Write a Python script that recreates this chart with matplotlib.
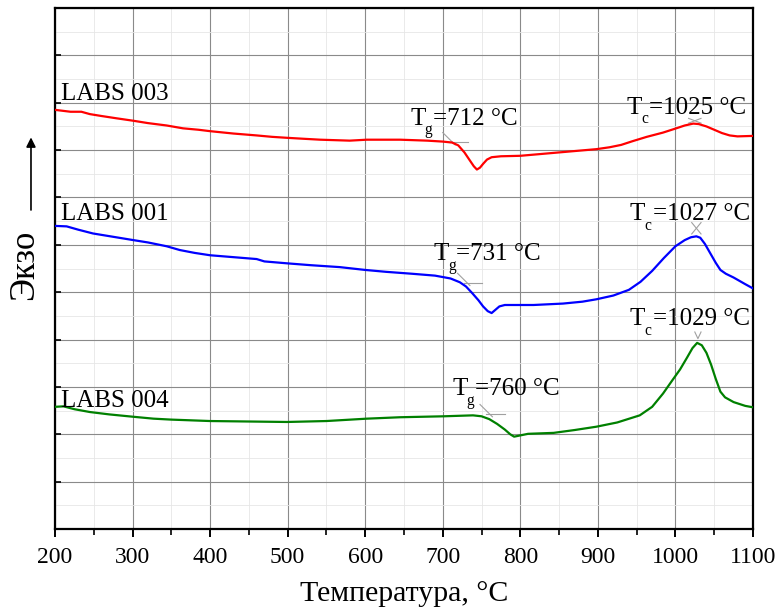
import matplotlib

matplotlib.use("Agg")
import matplotlib.pyplot as plt
from matplotlib.ticker import MultipleLocator, NullFormatter

plt.rcParams["font.family"] = ["Liberation Serif", "DejaVu Serif"]

# DSC traces, temperature in °C, heat flow in arbitrary offset units
labs003_t = [200, 210, 220, 234, 245, 260, 280, 301, 320, 344, 365, 385, 400, 430, 460,
             480, 499, 520, 542, 580, 602, 645, 680, 700, 712, 720, 728, 735, 740, 744,
             748, 752, 757, 763, 775, 800, 842, 870, 898, 915, 930, 945, 963, 984, 1001,
             1012, 1023, 1030, 1040, 1050, 1060, 1070, 1080, 1100]
labs003_q = [8.85, 8.83, 8.81, 8.81, 8.76, 8.72, 8.67, 8.62, 8.57, 8.52, 8.46, 8.43, 8.40, 8.35, 8.31,
             8.28, 8.26, 8.24, 8.22, 8.20, 8.22, 8.22, 8.20, 8.18, 8.16, 8.10, 7.95, 7.78, 7.66, 7.59,
             7.63, 7.71, 7.80, 7.85, 7.87, 7.88, 7.94, 7.98, 8.02, 8.06, 8.11, 8.19, 8.28, 8.37, 8.46,
             8.52, 8.56, 8.55, 8.50, 8.43, 8.36, 8.31, 8.29, 8.30]

labs001_t = [200, 215, 230, 249, 275, 301, 320, 344, 361, 380, 400, 430, 460, 470, 499,
             530, 567, 600, 627, 660, 690, 710, 722, 730, 738, 746, 752, 758, 763, 768,
             773, 780, 817, 855, 880, 898, 920, 940, 955, 970, 985, 1000, 1012, 1020, 1027,
             1032, 1038, 1045, 1052, 1058, 1065, 1075, 1090, 1100]
labs001_q = [6.40, 6.39, 6.32, 6.24, 6.17, 6.10, 6.05, 5.97, 5.89, 5.83, 5.78, 5.74, 5.70, 5.65, 5.61,
             5.57, 5.53, 5.47, 5.43, 5.39, 5.35, 5.29, 5.21, 5.12, 4.98, 4.83, 4.70, 4.60, 4.56, 4.63,
             4.70, 4.73, 4.73, 4.76, 4.80, 4.85, 4.93, 5.05, 5.22, 5.45, 5.72, 5.97, 6.10, 6.16, 6.18,
             6.15, 6.02, 5.82, 5.62, 5.47, 5.39, 5.31, 5.17, 5.08]

labs004_t = [200, 211, 225, 245, 270, 301, 327, 350, 400, 450, 499, 550, 602, 645, 701,
             739, 750, 760, 770, 780, 787, 792, 798, 810, 843, 870, 898, 925, 954, 970,
             984, 996, 1006, 1015, 1022, 1028, 1034, 1040, 1046, 1052, 1058, 1064, 1075, 1090, 1100]
labs004_q = [2.58, 2.59, 2.53, 2.47, 2.42, 2.37, 2.33, 2.31, 2.28, 2.27, 2.26, 2.28, 2.33, 2.36, 2.38,
             2.40, 2.38, 2.32, 2.22, 2.10, 2.00, 1.95, 1.97, 2.01, 2.03, 2.09, 2.16, 2.25, 2.40, 2.58,
             2.86, 3.14, 3.37, 3.62, 3.82, 3.93, 3.88, 3.72, 3.47, 3.17, 2.90, 2.78, 2.68, 2.60, 2.57]

sample_names = ["LABS 003", "LABS 001", "LABS 004"]
tg_values = [712, 731, 760]
tc_values = [1025, 1027, 1029]
colors = ["#ff0000", "#0000ff", "#008000"]

traces = [(labs003_t, labs003_q), (labs001_t, labs001_q), (labs004_t, labs004_q)]

# placement of names and onset/peak labels
name_pos = [(208, 9.05), (208, 6.52), (208, 2.57)]
tg_text_pos = [(658, 8.54), (688, 5.67), (712, 2.83)]
tc_text_pos = [(937, 8.77), (941, 6.52), (941, 4.30)]
tg_mark_level = [8.17, 5.20, 2.43]
tc_mark_level = [8.62, 6.35, 4.02]


def subscript_label(ax, pos, sub, rest, size=18):
    """Draw T with a low subscript followed by the value text."""
    ax.text(*pos, "T", fontsize=size, ha="left", va="baseline")
    ax.annotate(sub, pos, xytext=(10.5, -7), textcoords="offset points",
                fontsize=size * 0.62, ha="left", va="baseline")
    ax.annotate(rest, pos, xytext=(16.5, 0), textcoords="offset points",
                fontsize=size, ha="left", va="baseline")


fig = plt.figure(figsize=(7.79, 6.08), dpi=100)
ax = fig.add_axes([0.0706, 0.1299, 0.896, 0.8569])

ax.set_xlim(200, 1100)
ax.set_ylim(0, 11)
ax.xaxis.set_major_locator(MultipleLocator(100))
ax.xaxis.set_minor_locator(MultipleLocator(50))
ax.yaxis.set_major_locator(MultipleLocator(1))
ax.yaxis.set_minor_locator(MultipleLocator(0.5))
ax.yaxis.set_major_formatter(NullFormatter())

ax.grid(True, which="major", color="#8a8a8a", linewidth=0.8)
ax.grid(True, which="minor", color="#e6e6e6", linewidth=0.6)
ax.set_axisbelow(True)

for spine in ax.spines.values():
    spine.set_linewidth(1.6)
ax.tick_params(axis="x", which="major", direction="out", length=6, width=1.4, labelsize=17, pad=7)
ax.tick_params(axis="x", which="minor", direction="out", length=4, width=1.2)
ax.tick_params(axis="y", which="major", direction="in", length=4, width=1.2)
ax.tick_params(axis="y", which="minor", length=0)

gray = "#a0a0a0"
for i, (t, q) in enumerate(traces):
    ax.plot(t, q, color=colors[i], linewidth=1.6, zorder=3)

    ax.text(*name_pos[i], sample_names[i], fontsize=18, ha="left", va="baseline")

    tg, yg = tg_values[i], tg_mark_level[i]
    ax.plot([tg - 12, tg + 4], [yg + 0.2, yg - 0.06], color=gray, linewidth=0.8, zorder=2)
    ax.plot([tg - 4, tg + 20], [yg, yg], color=gray, linewidth=0.8, zorder=2)
    subscript_label(ax, tg_text_pos[i], "g", "=%d °C" % tg)

    tc, yc = tc_values[i], tc_mark_level[i]
    if i == 2:
        ax.plot([tc - 4, tc, tc + 4], [yc + 0.14, yc, yc + 0.14], color=gray, linewidth=0.8, zorder=2)
    else:
        dx, dy = (8, 0.05) if i == 0 else (6, 0.12)
        ax.plot([tc - dx, tc + dx], [yc + dy, yc - dy], color=gray, linewidth=0.8, zorder=2)
        ax.plot([tc - dx, tc + dx], [yc - dy, yc + dy], color=gray, linewidth=0.8, zorder=2)
    subscript_label(ax, tc_text_pos[i], "c", "=%d °C" % tc)

ax.set_xlabel("Температура, °C", fontsize=21.5, labelpad=9)

# exo direction marker on the left
ax.text(-0.043, 0.507, "Экзо", transform=ax.transAxes, rotation=90,
        fontsize=25, ha="center", va="center")
ax.annotate("", xy=(-0.0344, 0.757), xytext=(-0.0344, 0.607),
            xycoords="axes fraction", textcoords="axes fraction",
            arrowprops=dict(arrowstyle="-|>", color="black", lw=1.2, mutation_scale=14),
            annotation_clip=False)

fig.savefig("out.png", dpi=100)
